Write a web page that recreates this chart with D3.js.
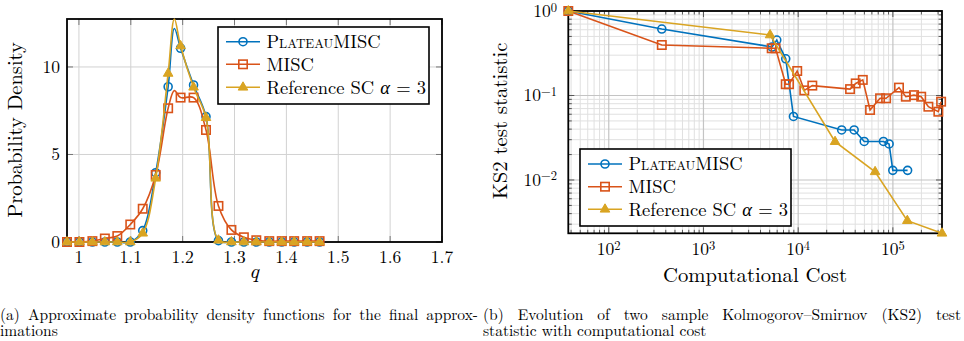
<!DOCTYPE html>
<html>
<head>
<meta charset="utf-8">
<script src="https://cdn.jsdelivr.net/npm/d3@7"></script>
<style>
  body { margin: 0; background: #fff; }
  svg { display: block; }
  svg text { fill: #000; }
</style>
</head>
<body>
<svg id="fig" width="964" height="341" font-family="'Latin Modern Roman', 'Liberation Serif', serif"></svg>
<script>
// ---- data: (a) pdf of q ----
// 1.184 is the unmarked peak point between two markers
const qVals = [0.977, 1.001, 1.026, 1.050, 1.074, 1.099, 1.123, 1.148, 1.172, 1.184, 1.196,
               1.221, 1.245, 1.269, 1.294, 1.318, 1.342, 1.367, 1.391, 1.415, 1.440, 1.464];
const unmarkedIdx = 9;
const plateauPdf = [0, 0, 0, 0, 0, 0, 0.65, 3.96, 8.87, 12.2, 11.07, 8.97, 7.16, 0.08, 0, 0, 0, 0, 0, 0, 0, 0];
const miscPdf    = [0, 0, 0.05, 0.2, 0.34, 1.0, 1.9, 3.83, 7.64, 8.65, 8.25, 8.25, 6.4, 2.06, 0.69, 0.27, 0.1, 0.05, 0.05, 0.05, 0.05, 0.05];
const refPdf     = [0, 0, 0, 0, 0, 0, 0.5, 3.64, 9.63, 12.74, 11.2, 8.84, 7.1, 0.1, 0, 0, 0, 0, 0, 0, 0, 0];
const qTicks = [1, 1.1, 1.2, 1.3, 1.4, 1.5, 1.6, 1.7];
const qTickLabels = ["1", "1.1", "1.2", "1.3", "1.4", "1.5", "1.6", "1.7"];
const pdfTicks = [0, 5, 10];

// ---- data: (b) KS2 statistic vs cost ----
const plateauCost = [37.4, 363, 5300, 5940, 7390, 8920, 28800, 39000, 49800, 79500, 91200, 99800, 143000];
const plateauKs   = [1, 0.612, 0.375, 0.453, 0.272, 0.0565, 0.0391, 0.0391, 0.0286, 0.0286, 0.0267, 0.013, 0.013];
const miscCost = [37.4, 363, 5250, 5770, 7390, 8000, 9770, 11600, 14100, 35300, 40500, 48100, 57400,
                  73200, 84800, 116000, 137000, 167000, 199000, 237000, 302000, 323000];
const miscKs   = [1, 0.396, 0.362, 0.362, 0.136, 0.136, 0.195, 0.115, 0.131, 0.119, 0.139, 0.153, 0.0674,
                  0.0927, 0.0927, 0.124, 0.0968, 0.101, 0.0968, 0.0737, 0.0643, 0.0845];
const refCost = [37.4, 5050, 24500, 64900, 142000, 330000];
const refKs   = [1, 0.52, 0.0284, 0.0125, 0.0033, 0.00234];
const costTickExp = [2, 3, 4, 5];
const ksTickExp = [0, -1, -2];

const seriesNames = ["PlateauMISC", "MISC", "Reference SC"];
const colors = ["#0072bd", "#d95319", "#d9a422"];
const markers = ["circle", "square", "triangle"];

const svg = d3.select("#fig");

function drawMarker(g, type, x, y, color) {
  if (type === "circle") {
    g.append("circle").attr("cx", x).attr("cy", y).attr("r", 4)
      .attr("fill", "none").attr("stroke", color).attr("stroke-width", 1.6);
  } else if (type === "square") {
    g.append("rect").attr("x", x - 4.2).attr("y", y - 4.2).attr("width", 8.4).attr("height", 8.4)
      .attr("fill", "none").attr("stroke", color).attr("stroke-width", 1.6);
  } else {
    g.append("path").attr("d", `M${x},${y - 5.5}L${x + 4.8},${y + 2.8}L${x - 4.8},${y + 2.8}Z`)
      .attr("fill", color).attr("stroke", color).attr("stroke-width", 1);
  }
}

function legend(x, y, w, h, rowYs) {
  const g = svg.append("g");
  g.append("rect").attr("x", x).attr("y", y).attr("width", w).attr("height", h)
    .attr("fill", "#fff").attr("stroke", "#000").attr("stroke-width", 1.6);
  seriesNames.forEach((name, i) => {
    const ry = rowYs[i];
    g.append("line").attr("x1", x + 8).attr("x2", x + 42).attr("y1", ry).attr("y2", ry)
      .attr("stroke", colors[i]).attr("stroke-width", 1.6);
    drawMarker(g, markers[i], x + 25, ry, colors[i]);
    const t = g.append("text").attr("x", x + 48.5).attr("y", ry + 6.3).attr("font-size", 18.5);
    if (i === 0) {
      t.append("tspan").style("font-variant", "small-caps").text("Plateau");
      t.append("tspan").text("MISC");
    } else if (i === 1) {
      t.text("MISC");
    } else {
      t.append("tspan").text("Reference SC ");
      t.append("tspan").attr("font-style", "italic").text("α");
      t.append("tspan").text(" = 3");
    }
  });
}

// ================= (a) =================
const xL = d3.scaleLinear().domain([qVals[0], 1.7]).range([67, 442]);
const yL = d3.scaleLinear().domain([0, d3.max(refPdf)]).range([242, 19]);
const gA = svg.append("g");

// grid
gA.selectAll(".gx").data(qTicks).join("line")
  .attr("x1", d => xL(d)).attr("x2", d => xL(d)).attr("y1", yL.range()[0]).attr("y2", yL.range()[1])
  .attr("stroke", "#d2d2d2").attr("stroke-width", 1);
gA.selectAll(".gy").data(pdfTicks).join("line")
  .attr("x1", xL.range()[0]).attr("x2", xL.range()[1]).attr("y1", d => yL(d)).attr("y2", d => yL(d))
  .attr("stroke", "#d2d2d2").attr("stroke-width", 1);

// inward ticks
qTicks.forEach(d => {
  gA.append("line").attr("x1", xL(d)).attr("x2", xL(d)).attr("y1", 242).attr("y2", 236).attr("stroke", "#777");
  gA.append("line").attr("x1", xL(d)).attr("x2", xL(d)).attr("y1", 19).attr("y2", 25).attr("stroke", "#777");
});
pdfTicks.forEach(d => {
  gA.append("line").attr("x1", 67).attr("x2", 73).attr("y1", yL(d)).attr("y2", yL(d)).attr("stroke", "#777");
  gA.append("line").attr("x1", 442).attr("x2", 436).attr("y1", yL(d)).attr("y2", yL(d)).attr("stroke", "#777");
});

gA.append("rect").attr("x", 67).attr("y", 19).attr("width", 375).attr("height", 223)
  .attr("fill", "none").attr("stroke", "#000").attr("stroke-width", 1.8);

// tick labels
gA.selectAll(".tx").data(qTicks).join("text")
  .attr("x", d => xL(d)).attr("y", 263).attr("text-anchor", "middle").attr("font-size", 17.5)
  .text((d, i) => qTickLabels[i]);
gA.selectAll(".ty").data(pdfTicks).join("text")
  .attr("x", 60).attr("y", d => yL(d) + 6).attr("text-anchor", "end").attr("font-size", 17.5)
  .text(d => d);

gA.append("text").attr("transform", "translate(22,130) rotate(-90)").attr("text-anchor", "middle")
  .attr("font-size", 20.5).text("Probability Density");
gA.append("text").attr("x", 254).attr("y", 278).attr("text-anchor", "middle")
  .attr("font-size", 21).attr("font-style", "italic").text("q");

const pdfSeries = [plateauPdf, miscPdf, refPdf];
const lineA = d3.line().x(d => xL(d[0])).y(d => yL(d[1])).curve(d3.curveCatmullRom.alpha(0.5));
pdfSeries.forEach((vals, i) => {
  const pts = qVals.map((q, j) => [q, vals[j]]);
  gA.append("path").datum(pts).attr("d", lineA)
    .attr("fill", "none").attr("stroke", colors[i]).attr("stroke-width", 1.6);
  const mg = gA.append("g");
  pts.forEach((p, j) => {
    if (j !== unmarkedIdx) drawMarker(mg, markers[i], xL(p[0]), yL(p[1]), colors[i]);
  });
});

legend(218, 27, 211, 77, [41.7, 64.3, 87.3]);

// ================= (b) =================
const allCost = plateauCost.concat(miscCost, refCost);
const allKs = plateauKs.concat(miscKs, refKs);
const xR = d3.scaleLog().domain(d3.extent(allCost)).range([568.3, 942]);
const yR = d3.scaleLog().domain(d3.extent(allKs)).range([233.3, 11]);
const gB = svg.append("g");
const isPow = v => Math.abs(Math.log10(v) - Math.round(Math.log10(v))) < 1e-9;

const xt = xR.ticks(), yt = yR.ticks();
const [bx0, bx1] = xR.range(), [by0, by1] = yR.range();

// minor then major grid
xt.filter(v => !isPow(v)).forEach(v => {
  gB.append("line").attr("x1", xR(v)).attr("x2", xR(v)).attr("y1", by0).attr("y2", by1)
    .attr("stroke", "#e0e0e0").attr("stroke-width", 1);
});
yt.filter(v => !isPow(v)).forEach(v => {
  gB.append("line").attr("x1", bx0).attr("x2", bx1).attr("y1", yR(v)).attr("y2", yR(v))
    .attr("stroke", "#e0e0e0").attr("stroke-width", 1);
});
xt.filter(isPow).forEach(v => {
  gB.append("line").attr("x1", xR(v)).attr("x2", xR(v)).attr("y1", by0).attr("y2", by1)
    .attr("stroke", "#c4c4c4").attr("stroke-width", 1.2);
});
yt.filter(isPow).forEach(v => {
  gB.append("line").attr("x1", bx0).attr("x2", bx1).attr("y1", yR(v)).attr("y2", yR(v))
    .attr("stroke", "#c4c4c4").attr("stroke-width", 1.2);
});
// inward ticks
xt.forEach(v => {
  const len = isPow(v) ? 6 : 3.5;
  gB.append("line").attr("x1", xR(v)).attr("x2", xR(v)).attr("y1", by0).attr("y2", by0 - len).attr("stroke", "#555");
  gB.append("line").attr("x1", xR(v)).attr("x2", xR(v)).attr("y1", by1).attr("y2", by1 + len).attr("stroke", "#555");
});
yt.forEach(v => {
  const len = isPow(v) ? 6 : 3.5;
  gB.append("line").attr("x1", bx0).attr("x2", bx0 + len).attr("y1", yR(v)).attr("y2", yR(v)).attr("stroke", "#555");
  gB.append("line").attr("x1", bx1).attr("x2", bx1 - len).attr("y1", yR(v)).attr("y2", yR(v)).attr("stroke", "#555");
});

gB.append("rect").attr("x", bx0).attr("y", by1).attr("width", bx1 - bx0).attr("height", by0 - by1)
  .attr("fill", "none").attr("stroke", "#000").attr("stroke-width", 1.8);

costTickExp.forEach(e => {
  const t = gB.append("text").attr("x", xR(Math.pow(10, e))).attr("y", 255)
    .attr("text-anchor", "middle").attr("font-size", 17.5);
  t.append("tspan").text("10");
  t.append("tspan").attr("dy", -5.5).attr("font-size", 12.5).text(e);
});
ksTickExp.forEach(e => {
  const t = gB.append("text").attr("x", 557).attr("y", yR(Math.pow(10, e)) + 6)
    .attr("text-anchor", "end").attr("font-size", 17.5);
  t.append("tspan").text("10");
  t.append("tspan").attr("dy", -5.5).attr("font-size", 12.5).text(e < 0 ? "−" + (-e) : e);
});

gB.append("text").attr("transform", "translate(507,121) rotate(-90)").attr("text-anchor", "middle")
  .attr("font-size", 20.7).text("KS2 test statistic");
gB.append("text").attr("x", 755).attr("y", 282).attr("text-anchor", "middle")
  .attr("font-size", 20.7).text("Computational Cost");

const ksSeries = [[plateauCost, plateauKs], [miscCost, miscKs], [refCost, refKs]];
const lineB = d3.line().x(d => xR(d[0])).y(d => yR(d[1]));
ksSeries.forEach(([cs, ks], i) => {
  const pts = cs.map((c, j) => [c, ks[j]]);
  gB.append("path").datum(pts).attr("d", lineB)
    .attr("fill", "none").attr("stroke", colors[i]).attr("stroke-width", 1.6);
  const mg = gB.append("g");
  pts.forEach(p => drawMarker(mg, markers[i], xR(p[0]), yR(p[1]), colors[i]));
});

legend(580, 149, 211, 77, [164, 186.7, 209.3]);

// ================= captions =================
function caption(x, width, line1, line2) {
  const t1 = svg.append("text").attr("x", x).attr("y", 320).attr("font-size", 15.5).text(line1);
  const natural = t1.node().getComputedTextLength();
  const gaps = line1.split(" ").length - 1;
  if (natural < width) t1.attr("word-spacing", (width - natural) / gaps);
  else t1.attr("textLength", width).attr("lengthAdjust", "spacingAndGlyphs");
  svg.append("text").attr("x", x).attr("y", 336).attr("font-size", 15.5).text(line2);
}
caption(0, 478, "(a) Approximate probability density functions for the final approx-", "imations");
caption(483, 478, "(b) Evolution of two sample Kolmogorov–Smirnov (KS2) test", "statistic with computational cost");
</script>
</body>
</html>
